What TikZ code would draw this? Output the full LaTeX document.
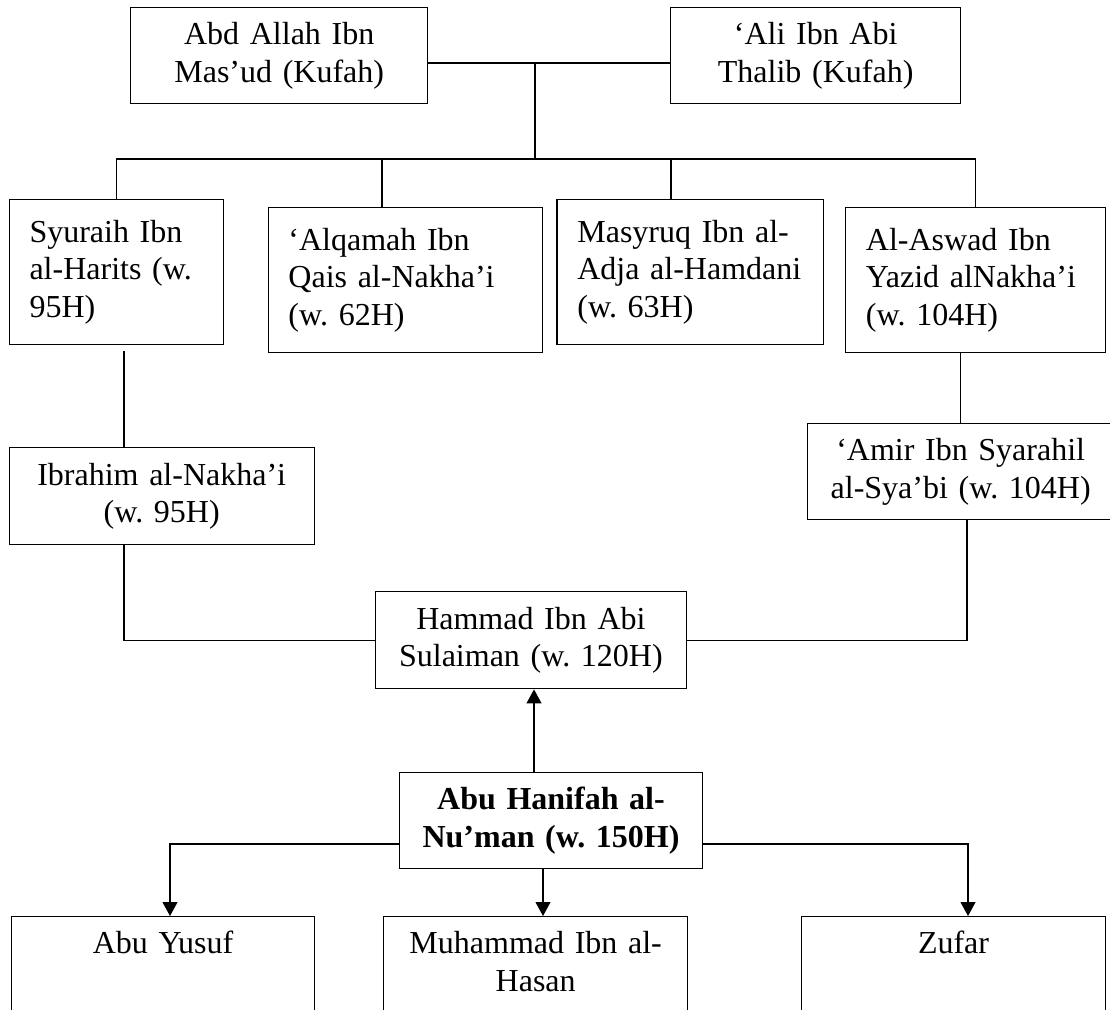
\documentclass[tikz,border=0pt]{standalone}
\usepackage{fontspec}
\setmainfont{Liberation Serif}
\frenchspacing
\usetikzlibrary{arrows.meta}
\tikzstyle{box} = [rectangle, 
			draw, 
			anchor = north west, 
			line width = 0.5pt, 
			inner ysep = 0pt]
\tikzstyle{cbox} = [box, 
			align = center, 
			inner xsep = 4pt]
\tikzstyle{lbox} = [box, 
			align = left, 
			inner xsep = 7.6pt]
\tikzstyle{pupil} = [cbox, 
			text height = 8.2pt, 
			text depth = 16.8pt, 
			minimum height = 36.4pt]
\tikzstyle{link} = [line width = 0.5pt]
\tikzstyle{arrow} = [link, 
			-{Triangle[length = 5.25pt, width = 5.6pt]}]

\begin{document}
\begin{tikzpicture}[x = 0.375pt, y = -0.375pt, font = \fontsize{12}{14.1}\selectfont]
	\useasboundingbox (0,0) rectangle (1110,1009);
	% sahabat
	\node [cbox, text width = 103.4pt, minimum height = 36pt] (abd) at (130,7) {Abd Allah Ibn\\Mas’ud (Kufah)};
	\node [cbox, text width = 100.75pt, minimum height = 36pt] (ali) at (670,7) {‘Ali Ibn Abi\\Thalib (Kufah)};
	% tabi'in
	\node [lbox, text width = 65.05pt, minimum height = 54.4pt] (syu) at (8.6,199) {Syuraih Ibn\\al-Harits (w.\\95H)};
	\node [lbox, text width = 87.7pt, minimum height = 54.4pt] (alq) at (267.5,207) {‘Alqamah Ibn\\Qais al-Nakha’i\\(w. 62H)};
	\node [lbox, text width = 84.8pt, minimum height = 54.4pt] (mas) at (556.4,199) {Masyruq Ibn al-\\Adja al-Hamdani\\(w. 63H)};
	\node [lbox, text width = 82.3pt, minimum height = 54.4pt] (asw) at (845,207) {Al-Aswad Ibn\\Yazid alNakha’i\\(w. 104H)};
	\node [cbox, text width = 106.4pt, minimum height = 36.4pt] (ibr) at (8.5,447) {Ibrahim al-Nakha’i\\(w. 95H)};
	\node [cbox, text width = 106.75pt, minimum height = 36pt] (amr) at (807,423) {‘Amir Ibn Syarahil\\al-Sya’bi (w. 104H)};
	\node [cbox, text width = 108.8pt, minimum height = 36.4pt] (ham) at (374.5,591) {Hammad Ibn Abi\\Sulaiman (w. 120H)};
	% imam and his pupils
	\node [cbox, text width = 105.8pt, minimum height = 36pt, font = \fontsize{12}{14.1}\selectfont\bfseries] (abh) at (398.6,772) {Abu Hanifah al-\\Nu’man (w. 150H)};
	\node [pupil, text width = 105.8pt] (yus) at (10.6,916) {Abu Yusuf};
	\node [pupil, text width = 106pt] (muh) at (383,916) {Muhammad Ibn al-\\Hasan};
	\node [pupil, text width = 106.2pt] (zuf) at (800.6,916) {Zufar};
	% connectors
	\coordinate (knot) at (535,63);
	\coordinate (bus) at (535,159);
	\coordinate (alqbus) at (382,159);
	\coordinate (masbus) at (671,159);
	\coordinate (ibrin) at (124,351);
	\coordinate (amrout) at (967,0);
	\coordinate (up) at (534,0);
	\coordinate (fork) at (0,844);
	\coordinate (yusin) at (170,0);
	\coordinate (muhin) at (543,0);
	\coordinate (zufin) at (968,0);
	\draw [link] (abd.east |- knot) -- (ali.west |- knot);
	\draw [link] (knot) -- (bus);
	\draw [link] (syu.north) |- (bus) -| (asw.north);
	\draw [link] (alqbus) -- (alqbus |- alq.north);
	\draw [link] (masbus) -- (masbus |- mas.north);
	\draw [link] (ibrin) -- (ibrin |- ibr.north);
	\draw [link] (ibrin |- ibr.south) |- (ham.west);
	\draw [link] (asw.south -| amr.north) -- (amr.north);
	\draw [link] (amrout |- amr.south) |- (ham.east);
	\draw [arrow] (up |- abh.north) -- (up |- ham.south);
	\draw [arrow] (abh.west |- fork) -| (yusin |- yus.north);
	\draw [arrow] (muhin |- abh.south) -- (muhin |- muh.north);
	\draw [arrow] (abh.east |- fork) -| (zufin |- zuf.north);
\end{tikzpicture}
\end{document}
